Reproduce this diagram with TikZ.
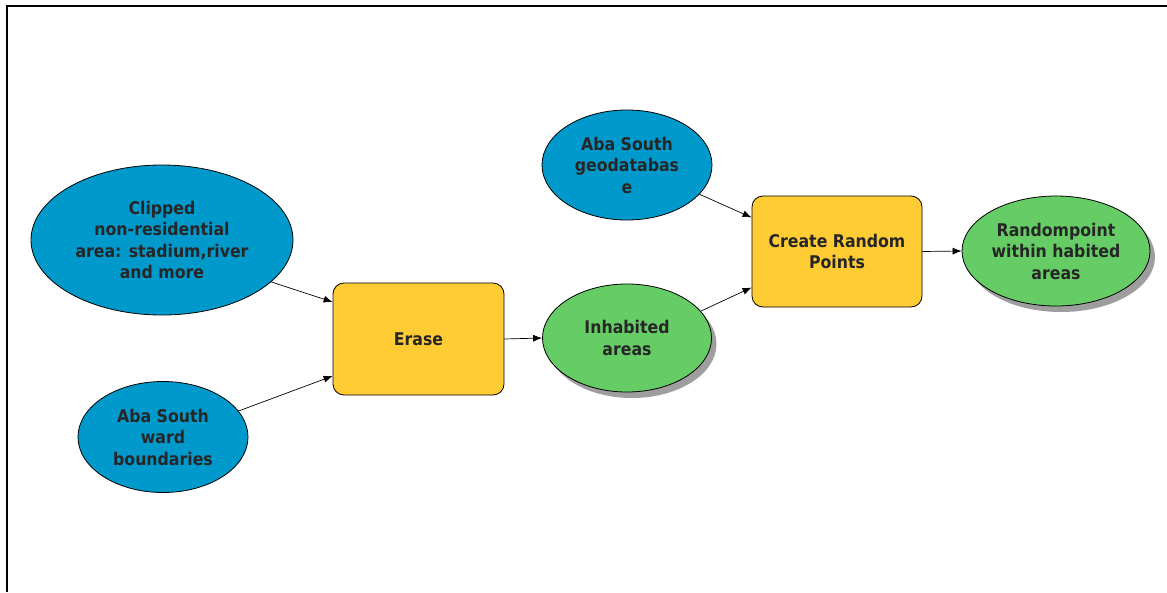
\documentclass[tikz,border=0pt]{standalone}
\usepackage{fontspec}
\setmainfont{DejaVu Sans Condensed}
\usetikzlibrary{shapes.geometric,shadows,arrows.meta}
\definecolor{inblue}{RGB}{0,153,204}
\definecolor{outgreen}{RGB}{102,204,102}
\definecolor{toolyellow}{RGB}{255,204,51}
\tikzset{
  lbl/.style={align=center,font=\fontsize{17.5}{21.5}\selectfont\bfseries,text=black!85},
  inputel/.style={lbl,ellipse,draw=black,line width=0.8pt,fill=inblue,inner sep=0pt},
  outputel/.style={lbl,ellipse,draw=black,line width=0.8pt,fill=outgreen,inner sep=0pt,
    drop shadow={shadow xshift=5pt,shadow yshift=-6pt,fill=black!38,opacity=1}},
  toolbox/.style={lbl,rectangle,rounded corners=11pt,draw=black,line width=0.8pt,fill=toolyellow,
    minimum width=171pt,minimum height=112pt,inner sep=0pt},
  conn/.style={line width=0.7pt,-{Latex[length=9pt,width=7pt]}}
}
\begin{document}
\begin{tikzpicture}[x=1pt,y=-1pt]
\useasboundingbox (0,0) rectangle (1167,592);
\fill[white] (0,0) rectangle (1167,592);
\draw[line width=1.8pt] (7,592) -- (7,6) -- (1167,6);
\node[inputel,minimum width=262pt,minimum height=150pt] (clip) at (162,240)
  {Clipped\\non-residential\\area: stadium,river\\and more};
\node[inputel,minimum width=170pt,minimum height=111pt] (ward) at (163,437)
  {Aba South\\ward\\boundaries};
\node[toolbox] (erase) at (418.5,339) {Erase};
\node[outputel,minimum width=169pt,minimum height=108pt] (inhab) at (627,338)
  {Inhabited\\areas};
\node[inputel,minimum width=170pt,minimum height=110pt] (geo) at (627,165)
  {Aba South\\geodatabas\\e};
\node[toolbox,minimum width=170pt,minimum height=111pt] (create) at (837,251.5)
  {Create Random\\Points};
\node[outputel,minimum width=188pt,minimum height=110pt] (rand) at (1056,251)
  {Randompoint\\within habited\\areas};
\draw[conn] (clip.-21.5) -- ([yshift=37pt]erase.west);
\draw[conn] (ward.19.3) -- ([yshift=-37pt]erase.west);
\draw[conn] (erase.east) -- (inhab.west);
\draw[conn] (geo.-22.3) -- ([yshift=34pt]create.west);
\draw[conn] (inhab.20.5) -- ([yshift=-36pt]create.west);
\draw[conn] (create.east) -- (rand.west);
\end{tikzpicture}
\end{document}
